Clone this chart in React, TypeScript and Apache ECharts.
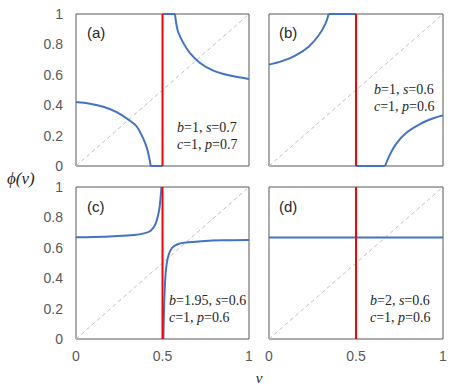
import React, { useEffect, useRef } from "react";
import * as echarts from "echarts";

// ---- data ----
const panelLabels = ["(a)", "(b)", "(c)", "(d)"];
const paramLine1 = ["{i|b}=1, {i|s}=0.7", "{i|b}=1, {i|s}=0.6", "{i|b}=1.95, {i|s}=0.6", "{i|b}=2, {i|s}=0.6"];
const paramLine2 = ["{i|c}=1, {i|p}=0.7", "{i|c}=1, {i|p}=0.6", "{i|c}=1, {i|p}=0.6", "{i|c}=1, {i|p}=0.6"];
const xTicks = [0, 0.5, 1];
const yTicks = [0, 0.2, 0.4, 0.6, 0.8, 1];
const diagonal = [[0, 0], [1, 1]];
const threshold = [[0.5, 0], [0.5, 1]];

// panel (a): b=1, s=0.7, c=1, p=0.7
const aLeftCurve = [[0, 0.421], [0.081, 0.41], [0.158, 0.39], [0.235, 0.355], [0.312, 0.298], [0.351, 0.26], [0.389, 0.18], [0.412, 0.11], [0.432, 0]];
const aLeftFlat = [[0.432, 0], [0.5, 0]];
const aRightFlat = [[0.5, 1], [0.572, 1]];
const aRightCurve = [[0.572, 1], [0.58, 0.935], [0.591, 0.88], [0.62, 0.81], [0.659, 0.743], [0.717, 0.678], [0.794, 0.627], [0.871, 0.6], [1, 0.572]];

// panel (b): b=1, s=0.6, c=1, p=0.6
const bLeftCurve = [[0, 0.667], [0.075, 0.69], [0.151, 0.726], [0.228, 0.785], [0.286, 0.86], [0.324, 0.935], [0.343, 1]];
const bLeftFlat = [[0.343, 1], [0.5, 1]];
const bRightFlat = [[0.5, 0], [0.667, 0]];
const bRightCurve = [[0.667, 0], [0.695, 0.075], [0.734, 0.15], [0.791, 0.22], [0.868, 0.276], [0.945, 0.314], [1, 0.333]];

// panel (c): b=1.95, s=0.6, c=1, p=0.6
const cLeftCurve = [[0, 0.669], [0.104, 0.671], [0.22, 0.676], [0.335, 0.684], [0.393, 0.695], [0.432, 0.712], [0.46, 0.757], [0.48, 0.844], [0.489, 0.932], [0.494, 1]];
const cRightCurve = [[0.505, 0], [0.51, 0.235], [0.518, 0.43], [0.53, 0.53], [0.553, 0.597], [0.591, 0.625], [0.649, 0.636], [0.746, 0.645], [0.842, 0.649], [1, 0.651]];

// panel (d): b=2, s=0.6, c=1, p=0.6
const dLine = [[0, 0.667], [1, 0.667]];

const curvesCurved = [[aLeftCurve, aRightCurve], [bLeftCurve, bRightCurve], [cLeftCurve, cRightCurve], []];
const curvesStraight = [[aLeftFlat, aRightFlat], [bLeftFlat, bRightFlat], [], [dLine]];

// ---- layout ----
const grids = [
  { left: 76, top: 14, width: 173, height: 152 },
  { left: 269, top: 14, width: 174, height: 152 },
  { left: 76, top: 187, width: 173, height: 152 },
  { left: 269, top: 187, width: 174, height: 152 },
];
const panelLabelPos = [[87, 32], [279, 32], [87, 206], [279, 206]];
const paramPos = [[177, 127], [374, 89], [169, 300], [370, 300]];

const BLUE = "#4472C4";
const GRAY_TEXT = "#595959";
const SERIF = "'Liberation Serif', 'Times New Roman', serif";
const SANS = "'Liberation Sans', Arial, sans-serif";

export default function App() {
  const ref = useRef<HTMLDivElement>(null);
  useEffect(() => {
    if (!ref.current) return;
    const chart = echarts.init(ref.current, undefined, { renderer: "svg" });
    const xAxis: any[] = [];
    const yAxis: any[] = [];
    const series: any[] = [];
    grids.forEach((g, i) => {
      const bottomRow = i >= 2;
      const leftCol = i % 2 === 0;
      xAxis.push({
        gridIndex: i, type: "value", min: xTicks[0], max: xTicks[xTicks.length - 1], interval: xTicks[1] - xTicks[0],
        axisLine: { show: false }, axisTick: { show: false }, splitLine: { show: false },
        axisLabel: { show: bottomRow, color: GRAY_TEXT, fontSize: 14, fontFamily: SANS, margin: 10 },
      });
      yAxis.push({
        gridIndex: i, type: "value", min: yTicks[0], max: yTicks[yTicks.length - 1], interval: yTicks[1] - yTicks[0],
        axisLine: { show: false }, axisTick: { show: false }, splitLine: { show: false },
        axisLabel: { show: leftCol, color: GRAY_TEXT, fontSize: 14, fontFamily: SANS, margin: 13 },
      });
      series.push({
        type: "line", xAxisIndex: i, yAxisIndex: i, data: diagonal, symbol: "none", silent: true,
        lineStyle: { color: "#BFBFBF", width: 1, type: [4, 3] },
      });
      curvesStraight[i].forEach((d) => series.push({
        type: "line", xAxisIndex: i, yAxisIndex: i, data: d, symbol: "none", silent: true,
        lineStyle: { color: BLUE, width: 2 },
      }));
      curvesCurved[i].forEach((d) => series.push({
        type: "line", xAxisIndex: i, yAxisIndex: i, data: d, symbol: "none", silent: true,
        smooth: 0.35, lineStyle: { color: BLUE, width: 2 },
      }));
      series.push({
        type: "line", xAxisIndex: i, yAxisIndex: i, data: threshold, symbol: "none", silent: true,
        lineStyle: { color: "#FF0000", width: 2 },
      });
    });

    const graphic: any[] = [];
    panelLabels.forEach((t, i) => {
      graphic.push({
        type: "text", x: panelLabelPos[i][0], y: panelLabelPos[i][1], silent: true,
        style: { text: t, fontSize: 15, fontFamily: SANS, fill: "#262626", verticalAlign: "middle" },
      });
      [paramLine1[i], paramLine2[i]].forEach((t2, k) => {
        graphic.push({
          type: "text", x: paramPos[i][0], y: paramPos[i][1] + k * 17, silent: true,
          style: {
            text: t2, fontSize: 14, fontFamily: SERIF, fill: "#262626", verticalAlign: "middle",
            rich: { i: { fontStyle: "italic", fontSize: 14, fontFamily: SERIF, fill: "#262626" } },
          },
        });
      });
    });
    graphic.push({
      type: "text", x: 7, y: 178, silent: true,
      style: { text: "ϕ(v)", fontSize: 17, fontStyle: "italic", fontFamily: SERIF, fill: "#262626", verticalAlign: "middle" },
    });
    graphic.push({
      type: "text", x: 259, y: 378, silent: true,
      style: { text: "v", fontSize: 15, fontStyle: "italic", fontFamily: SERIF, fill: "#262626", verticalAlign: "middle", align: "center" },
    });

    chart.setOption({
      animation: false,
      grid: grids.map((g) => ({ ...g, show: true, borderColor: "#595959", borderWidth: 1, backgroundColor: "transparent" })),
      xAxis, yAxis, series, graphic,
    });
    return () => chart.dispose();
  }, []);
  return <div ref={ref} style={{ position: "absolute", left: 0, top: 0, width: 462, height: 392, background: "#fff" }} />;
}
